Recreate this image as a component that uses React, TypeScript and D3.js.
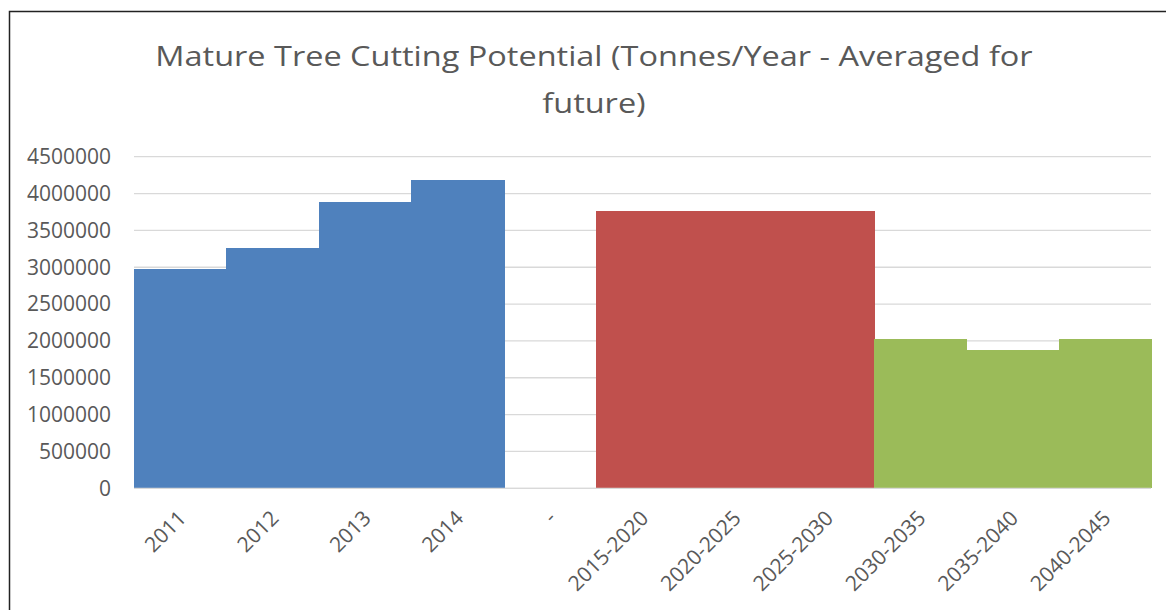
import React from "react";
import * as d3 from "d3";

const categories = ["2011", "2012", "2013", "2014", "-", "2015-2020", "2020-2025", "2025-2030", "2030-2035", "2035-2040", "2040-2045"];
const historicValues = [2975000, 3265000, 3885000, 4185000, null, null, null, null, null, null, null];
const forecastValues = [null, null, null, null, null, 3760000, 3760000, 3760000, null, null, null];
const longTermValues = [null, null, null, null, null, null, null, null, 2030000, 1875000, 2030000];
const yTicks = [0, 500000, 1000000, 1500000, 2000000, 2500000, 3000000, 3500000, 4000000, 4500000];
const titleLines = ["Mature Tree Cutting Potential (Tonnes/Year - Averaged for", "future)"];

const series = [
  { name: "Historic", values: historicValues, color: "#4F81BD" },
  { name: "Forecast", values: forecastValues, color: "#C0504D" },
  { name: "Long term", values: longTermValues, color: "#9BBB59" },
];

export default function App() {
  const W = 1166, H = 610;
  const left = 134, right = 1151, top = 156.7, bottom = 488.3;
  const x = d3.scaleBand<string>().domain(categories).range([left, right]).padding(0);
  const y = d3.scaleLinear().domain([0, 4500000]).range([bottom, top]);
  const font = "'Open Sans', Lato, sans-serif";
  const textColor = "#595959";

  return (
    <svg width={W} height={H} style={{ position: "absolute", left: 0, top: 0 }} fontFamily={font}>
      <rect x={0} y={0} width={W} height={H} fill="#fff" />
      <path d={`M9.5,${H} V11.5 H${W}`} fill="none" stroke="#222" strokeWidth={1.5} />
      {titleLines.map((t, i) => (
        <text key={i} transform={`translate(594,${66 + i * 46.5}) scale(1.16,1)`} textAnchor="middle" fontSize={28} fill={textColor}>{t}</text>
      ))}
      {yTicks.map((t) => (
        <g key={t}>
          <line x1={left} x2={right} y1={y(t)} y2={y(t)} stroke="#D9D9D9" strokeWidth={1.3} />
          <text x={111} y={y(t)} dy="0.35em" textAnchor="end" fontSize={21} fill={textColor}>{t}</text>
        </g>
      ))}
      {series.map((s) =>
        s.values.map((v, i) => {
          if (v == null) return null;
          const x0 = Math.round(x(categories[i])!);
          const x1 = Math.round(x(categories[i])! + x.bandwidth());
          const y0 = Math.round(y(v));
          return (
            <rect key={s.name + i} x={x0} width={x1 - x0 + 0.5} y={y0} height={bottom - y0} fill={s.color} shapeRendering="crispEdges" />
          );
        })
      )}
      <line x1={left} x2={right} y1={bottom} y2={bottom} stroke="#D9D9D9" strokeWidth={1.3} />
      {categories.map((c) => {
        const cx = x(c)! + x.bandwidth() / 2 + 2;
        const cy = bottom + 26;
        return (
          <text key={c} transform={`translate(${cx},${cy}) rotate(-45)`} textAnchor="end" dy="0.35em" fontSize={21} fill={textColor}>{c}</text>
        );
      })}
    </svg>
  );
}
